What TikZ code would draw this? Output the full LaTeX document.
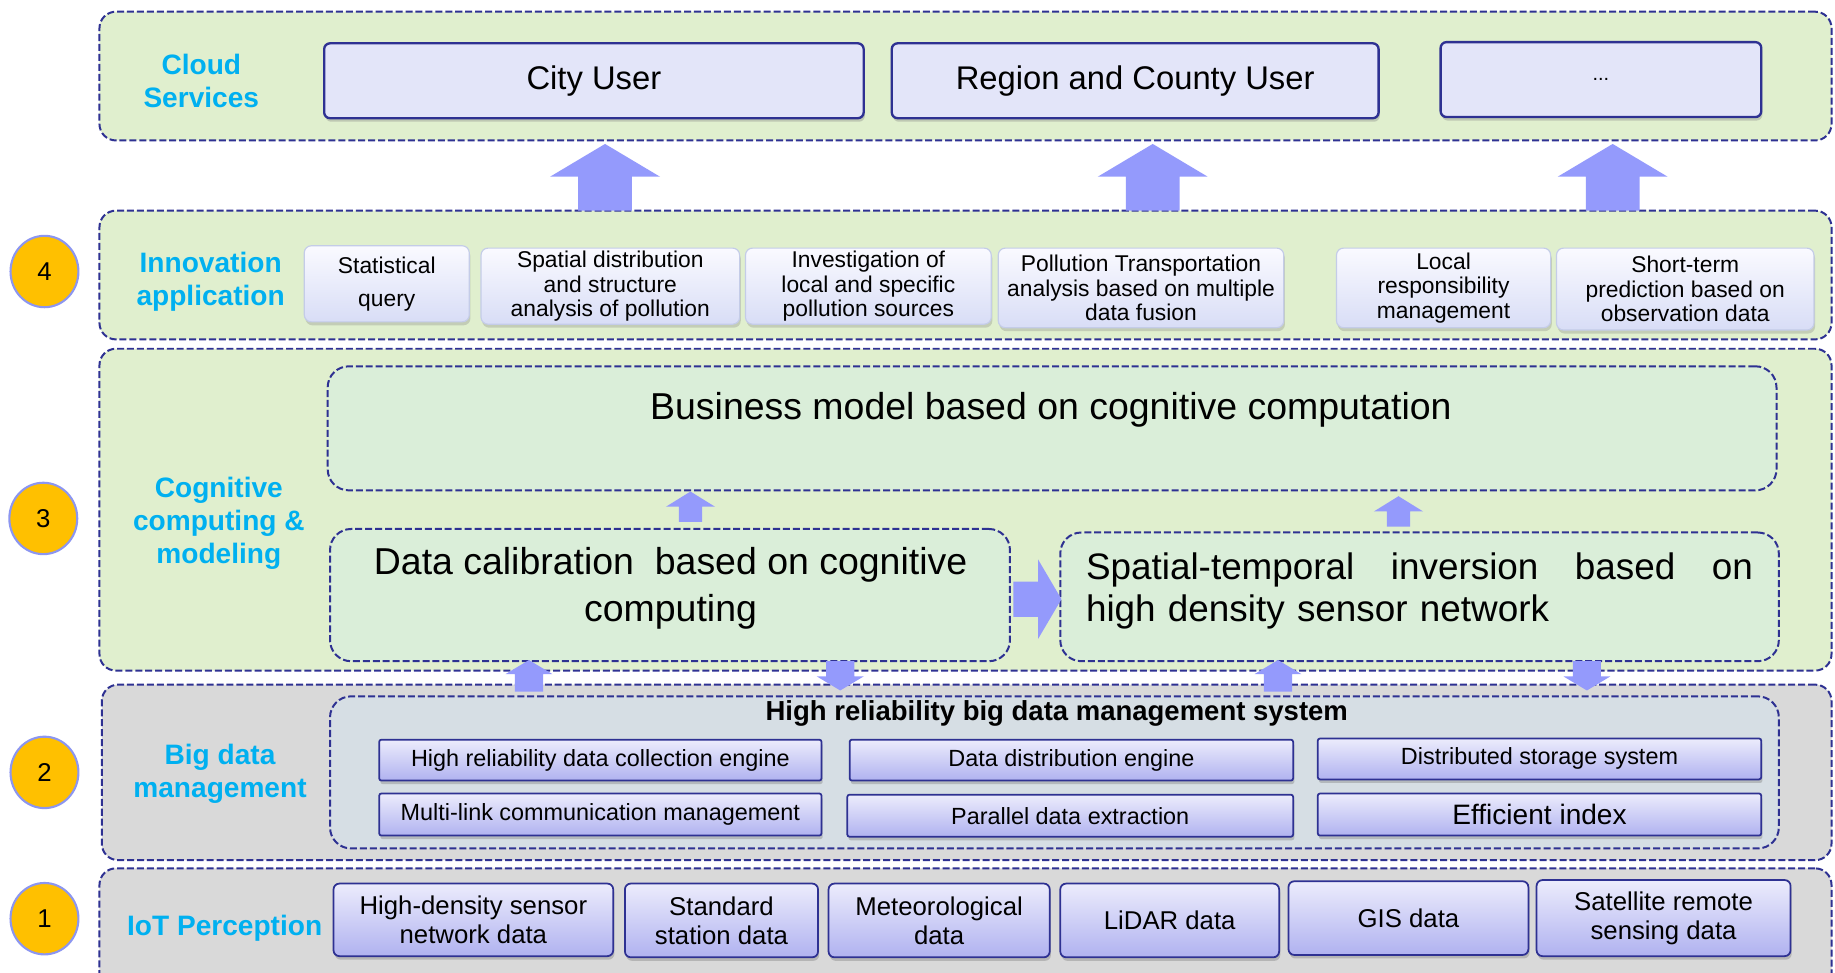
\documentclass[tikz,border=0pt]{standalone}
\usepackage{fontspec}
\setmainfont{Liberation Sans}
\usetikzlibrary{calc,shadows,shapes.geometric}
\definecolor{navy}{RGB}{46,49,146}
\definecolor{layergreen}{RGB}{224,239,206}
\definecolor{innergreen}{RGB}{218,238,217}
\definecolor{layergray}{RGB}{217,217,217}
\definecolor{innergray}{RGB}{214,222,228}
\definecolor{labelcyan}{RGB}{0,176,240}
\definecolor{arrowblue}{RGB}{148,154,252}
\definecolor{circfill}{RGB}{255,192,0}
\definecolor{circline}{RGB}{140,150,240}
\definecolor{userfill}{RGB}{227,229,249}
\definecolor{gradtop}{RGB}{236,236,252}
\definecolor{gradbot}{RGB}{176,178,240}
\definecolor{apptop}{RGB}{250,250,255}
\definecolor{appbot}{RGB}{216,221,246}
\definecolor{appline}{RGB}{196,204,232}
\newcommand\fsz[2]{\fontsize{#1}{#2}\selectfont}
% box helper: [style]{name}{x1}{y1}{x2}{y2}{text}
\newcommand\rbox[7][]{%
  \pgfmathsetmacro\rbcx{(#3+#5)/2}\pgfmathsetmacro\rbcy{(#4+#6)/2}%
  \pgfmathsetmacro\rbw{#5-#3}\pgfmathsetmacro\rbh{#6-#4}%
  \node[#1, minimum width=\rbw pt, minimum height=\rbh pt] (#2) at (\rbcx,\rbcy) {#7};}
% block arrow: {base}{tip}{shaft half}{head half}{head length}
\newcommand\barrow[5]{%
  \coordinate (hb) at ($(#2)!#5!(#1)$);
  \fill[arrowblue] ($(#1)!#3!90:(#2)$) -- ($(hb)!#3!-90:(#1)$) -- ($(hb)!#4!-90:(#1)$) -- (#2)
    -- ($(hb)!#4!90:(#1)$) -- ($(hb)!#3!90:(#1)$) -- ($(#1)!#3!-90:(#2)$) -- cycle;}
\tikzset{
  dashline/.style={draw=navy, dash pattern=on 6pt off 2.5pt, line width=1.7pt},
  layer/.style={dashline, rounded corners=14pt, inner sep=0pt, outer sep=0pt},
  inner/.style={dashline, rounded corners=18pt, inner sep=0pt, outer sep=0pt, fill=innergreen},
  lbl/.style={text=labelcyan, font=\bfseries\fsz{24}{28}, align=center, inner sep=0pt},
  num/.style={ellipse, fill=circfill, draw=circline, line width=1.8pt, minimum width=58pt, minimum height=61pt, inner sep=0pt, font=\fsz{22}{26}},
  user/.style={draw=navy, line width=2pt, fill=userfill, rounded corners=5pt, inner sep=0pt, outer sep=0pt,
    drop shadow={shadow xshift=1pt, shadow yshift=-3pt, opacity=0.35}, font=\fsz{28}{32}},
  app/.style={draw=appline, line width=1pt, top color=apptop, bottom color=appbot, rounded corners=6pt, inner sep=0pt, outer sep=0pt,
    drop shadow={shadow xshift=1pt, shadow yshift=-3pt, opacity=0.3}, font=\fsz{19.5}{21}, align=center},
  bd/.style={draw=navy, line width=1.5pt, top color=gradtop, bottom color=gradbot, rounded corners=2pt, inner sep=0pt, outer sep=0pt,
    drop shadow={shadow xshift=1pt, shadow yshift=-3pt, opacity=0.4}, font=\fsz{20}{24}, align=center},
  iot/.style={draw=navy, line width=1.5pt, top color=gradtop, bottom color=gradbot, rounded corners=5pt, inner sep=0pt, outer sep=0pt,
    drop shadow={shadow xshift=1pt, shadow yshift=-3pt, opacity=0.4}, font=\fsz{22}{25}, align=center},
}
\begin{document}
\begin{tikzpicture}[x=1pt,y=-1pt]
\useasboundingbox (0,0) rectangle (1568,831);
\fill[white] (0,0) rectangle (1568,831);
\clip (0,0) rectangle (1568,831);

% ---------- layers ----------
\rbox[layer, fill=layergreen]{Lcloud}{85}{10}{1565}{120}{}
\rbox[layer, fill=layergreen]{Lapp}{85}{180}{1565}{290}{}
\rbox[layer, fill=layergreen]{Lcog}{85}{298}{1565}{573}{}
\rbox[layer, fill=layergray]{Lbig}{87}{585}{1565}{735}{}
\rbox[layer, fill=layergray]{Liot}{85}{742}{1565}{850}{}

% ---------- numbers ----------
\node[num] (n4) at (38,232) {4};
\node[num] (n3) at (37,443) {3};
\node[num] (n2) at (38,660) {2};
\node[num] (n1) at (38,785) {1};

% ---------- layer labels ----------
\node[lbl] (t5) at (172,69) {Cloud\\Services};
\node[lbl] (t4) at (180,241) {Innovation\\application};
\node[lbl] (t3) at (187,447) {Cognitive\\computing \&\\modeling};
\node[lbl] (t2) at (188,661) {Big data\\management};
\node[lbl] (t1) at (192,793) {IoT Perception};

% ---------- cloud users ----------
\rbox[user]{city}{277}{37}{738}{101}{City User}
\rbox[user]{region}{762}{37}{1178}{101}{Region and County User}
\rbox[user, font=\fsz{17}{20}]{more}{1231}{36}{1505}{100}{...}

% ---------- innovation applications ----------
\rbox[app, font=\fsz{19.5}{28}]{a1}{260}{210}{401}{275}{Statistical\\query}
\rbox[app]{a2}{411}{212}{632}{277}{Spatial distribution\\and structure\\analysis of pollution}
\rbox[app]{a3}{637}{212}{847}{277}{Investigation of\\local and specific\\pollution sources}
\rbox[app]{a4}{853}{212}{1097}{280}{Pollution Transportation\\analysis based on multiple\\data fusion}
\rbox[app]{a5}{1142}{212}{1325}{280}{Local\\responsibility\\management}
\rbox[app]{a6}{1330}{212}{1550}{282}{Short-term\\prediction based on\\observation data}

% arrows to cloud layer
\coordinate (u1b) at (517,180); \coordinate (u1t) at (517,123);
\coordinate (u2b) at (985,180); \coordinate (u2t) at (985,123);
\coordinate (u3b) at (1378,180); \coordinate (u3t) at (1378,123);
\barrow{u1b}{u1t}{23pt}{47pt}{28pt}
\barrow{u2b}{u2t}{23pt}{47pt}{28pt}
\barrow{u3b}{u3t}{23pt}{47pt}{28pt}

% ---------- cognitive computing ----------
\rbox[inner]{bm}{280}{313}{1518}{419}{}
\node[font=\fsz{32}{36}, inner sep=0pt] (bmt) at (898,350) {Business model based on cognitive computation};
\rbox[inner]{cal}{282}{452}{863}{565}{}
\node[font=\fsz{32}{40}, align=center, inner sep=0pt] (calt) at (573,503) {Data calibration\ \ based on cognitive\\computing};
\rbox[inner]{sti}{906}{455}{1520}{565}{}
\node[font=\fsz{31.5}{36}, text width=570pt, align=left, inner sep=0pt] (stit) at (1213,505)
  {Spatial-temporal\hfill inversion\hfill based\hfill on\\high density sensor network};

\coordinate (c1b) at (590,446); \coordinate (c1t) at (590,420);
\barrow{c1b}{c1t}{10pt}{21pt}{13pt}
\coordinate (c2b) at (1195,450); \coordinate (c2t) at (1195,424);
\barrow{c2b}{c2t}{10pt}{21pt}{13pt}
\coordinate (hrb) at (866,512); \coordinate (hrt) at (907,512);
\barrow{hrb}{hrt}{15pt}{34pt}{20pt}

% ---------- big data management ----------
\rbox[dashline, rounded corners=18pt, inner sep=0pt, fill=innergray]{sys}{282}{595}{1520}{725}{}
\node[font=\bfseries\fsz{23.5}{26}, inner sep=0pt] (syst) at (903,610) {High reliability big data management system};
\rbox[bd]{b1}{324}{632}{702}{667}{High\ reliability data collection engine}
\rbox[bd]{b2}{726}{632}{1105}{667}{Data distribution engine}
\rbox[bd]{b3}{1126}{631}{1505}{666}{Distributed storage system}
\rbox[bd]{b4}{324}{678}{702}{714}{Multi-link\ communication management}
\rbox[bd]{b5}{724}{679}{1105}{715}{Parallel data extraction}
\rbox[bd, font=\fsz{24}{28}]{b6}{1126}{678}{1505}{714}{Efficient index}

\coordinate (d1b) at (452,591); \coordinate (d1t) at (452,564);
\barrow{d1b}{d1t}{12pt}{20pt}{12pt}
\coordinate (d2b) at (718,565); \coordinate (d2t) at (718,590);
\barrow{d2b}{d2t}{12pt}{20pt}{12pt}
\coordinate (d3b) at (1092,591); \coordinate (d3t) at (1092,564);
\barrow{d3b}{d3t}{12pt}{20pt}{12pt}
\coordinate (d4b) at (1356,565); \coordinate (d4t) at (1356,590);
\barrow{d4b}{d4t}{12pt}{20pt}{12pt}

% ---------- IoT perception ----------
\rbox[iot]{i1}{285}{755}{524}{817}{High-density\ sensor\\network data}
\rbox[iot]{i2}{534}{755}{699}{818}{Standard\\station data}
\rbox[iot]{i3}{708}{755}{897}{818}{Meteorological\\data}
\rbox[iot]{i4}{906}{755}{1093}{818}{LiDAR data}
\rbox[iot]{i5}{1101}{753}{1306}{816}{GIS data}
\rbox[iot]{i6}{1313}{752}{1530}{817}{Satellite\ remote\\sensing data}
\end{tikzpicture}
\end{document}
